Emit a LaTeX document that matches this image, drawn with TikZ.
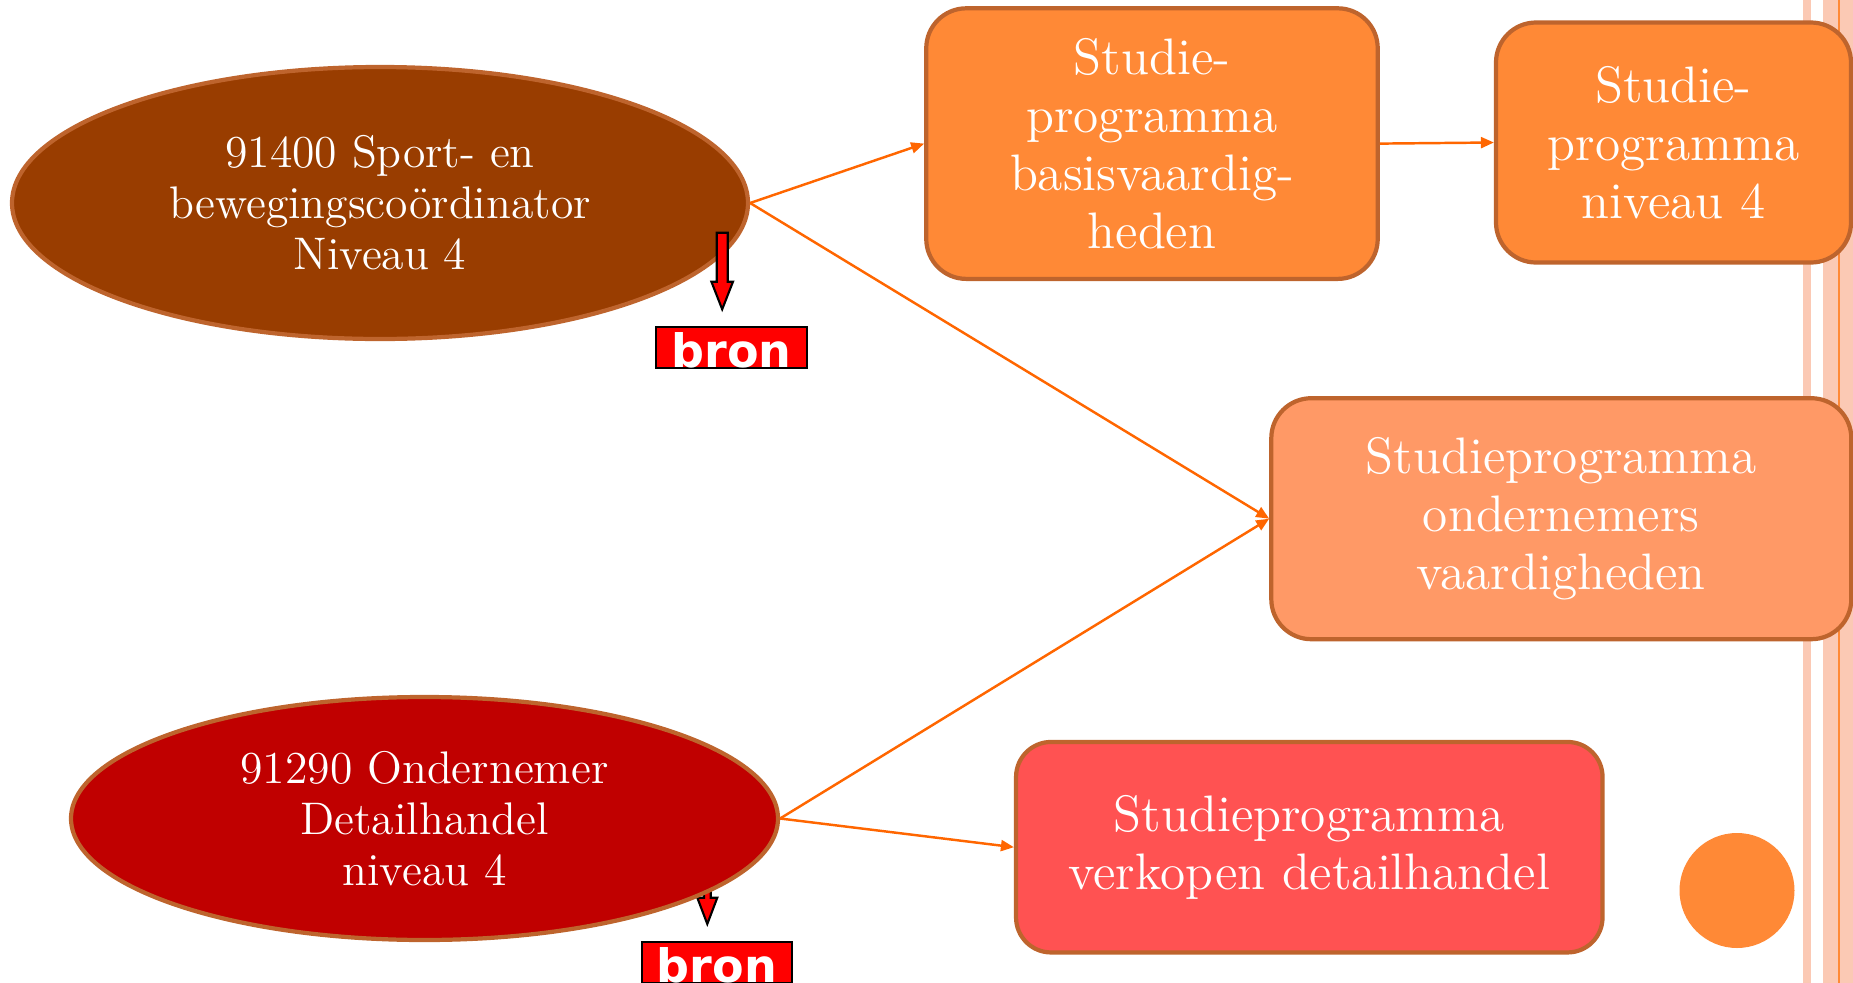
\documentclass[tikz,border=0pt]{standalone}
\usepackage{fontspec}
\usepackage{tikz}
\usetikzlibrary{arrows.meta}
\usetikzlibrary{shapes.geometric}
\newfontfamily\bronfont{DejaVu Sans}
\definecolor{ovaalbruin}{RGB}{153,61,0}
\definecolor{ovaalrood}{RGB}{192,0,0}
\definecolor{rand}{RGB}{190,100,45}
\definecolor{bloko}{RGB}{255,137,54}
\definecolor{blokl}{RGB}{255,153,102}
\definecolor{blokr}{RGB}{255,82,82}
\definecolor{pijlkleur}{RGB}{255,102,0}
\definecolor{streep}{RGB}{251,201,180}
\tikzset{ovaal/.style = {ellipse, draw = rand, line width = 1.2pt, text = white, align = center, inner sep = 0, font = \fontsize{13}{14.5}\selectfont}}
\tikzset{blok/.style = {rectangle, rounded corners = 4mm, draw = rand, line width = 1.2pt, text = white, align = center, inner sep = 0, font = \fontsize{14.6}{16.5}\selectfont}}
\tikzset{pijl/.style = {draw = pijlkleur, line width = 0.7pt, -{Triangle[length = 1.3mm, width = 1.1mm]}}}
\tikzset{bronvak/.style = {fill = red, draw = black, line width = 0.6pt, text = white, inner xsep = 0, inner ysep = 0.3pt, text height = 11.2pt, text depth = 0pt, minimum width = 15.06mm, font = \bronfont\bfseries\fontsize{13.1}{13.1}\selectfont}}
\tikzset{bronpijl/.style = {fill = red, draw = black, line width = 0.6pt}}

\begin{document}
\begin{tikzpicture}[x = 0.1mm, y = -0.1mm]
  \useasboundingbox (0, 0) rectangle (1853, 983);
  % rand rechts
  \fill [streep] (1803, 0) rectangle (1811, 983);
  \fill [streep] (1823, 0) rectangle (1853, 983);
  \draw [bloko, line width = 0.6pt] (1839, 0) -- (1839, 983);

  \draw [bronpijl] (704, 849) -- (710.7, 849) -- (710.7, 897.7) -- (717.3, 897.7) -- (707.3, 924) -- (697.3, 897.7) -- (704, 897.7) -- cycle;

  \node [ovaal, fill = ovaalbruin, minimum width = 73.6mm, minimum height = 27.2mm] (sport) at (380, 203) {91400 Sport- en\\bewegingscoördinator\\Niveau 4};
  \node [ovaal, fill = ovaalrood, minimum width = 70.7mm, minimum height = 24.3mm] (ondernemer) at (424.5, 818.5) {91290 Ondernemer\\Detailhandel\\niveau 4};

  \node [blok, fill = bloko, minimum width = 45.15mm, minimum height = 27.06mm] (basis) at (1152, 143.6) {Studie-\\programma\\basisvaardig-\\heden};
  \node [blok, fill = bloko, minimum width = 35.5mm, minimum height = 24mm] (niveau) at (1673.5, 142.5) {Studie-\\programma\\niveau 4};
  \node [blok, fill = blokl, minimum width = 58mm, minimum height = 24.1mm] (vaardig) at (1561.3, 518.7) {Studieprogramma\\ondernemers\\vaardigheden};
  \node [blok, fill = blokr, rounded corners = 3.5mm, minimum width = 58.65mm, minimum height = 21.05mm] (verkopen) at (1309.3, 847.2) {Studieprogramma\\verkopen detailhandel};

  \draw [pijl] (sport.east) -- (basis.west);
  \draw [pijl] (basis.east) -- (niveau.west);
  \draw [pijl] (sport.east) -- (vaardig.west);
  \draw [pijl] (ondernemer.east) -- (vaardig.west);
  \draw [pijl] (ondernemer.east) -- (verkopen.west);

  \draw [bronpijl] (716.7, 232.7) -- (727.7, 232.7) -- (727.7, 281.7) -- (733, 281.7) -- (722.2, 309.3) -- (711.4, 281.7) -- (716.7, 281.7) -- cycle;
  \node [bronvak] (bron1) at (731.7, 347.5) {bron};
  \node [bronvak] (bron2) at (717, 962.8) {bron};

  \fill [bloko] (1737, 890.5) circle (5.75mm);
\end{tikzpicture}
\end{document}
